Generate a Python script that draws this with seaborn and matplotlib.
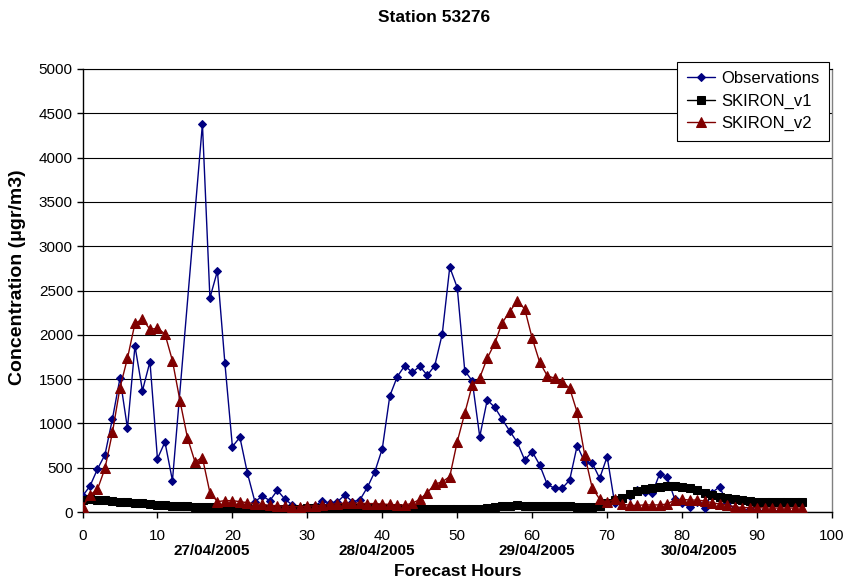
import numpy as np
import pandas as pd
import matplotlib
matplotlib.use("Agg")
import matplotlib.pyplot as plt
import seaborn as sns

# ---------------- data ----------------
obs_hours = list(range(0, 13)) + list(range(16, 94))
obs_values = [180, 293, 485, 647, 1054, 1511, 945, 1874, 1370, 1697, 602, 790, 354,
              4380, 2416, 2720, 1678, 738, 843, 440, 117, 180, 128, 245, 145, 79, 30,
              30, 70, 125, 100, 115, 192, 117, 135, 277, 454, 715, 1310, 1528, 1652,
              1575, 1645, 1543, 1652, 2010, 2763, 2533, 1596, 1479, 850, 1264, 1182,
              1046, 914, 787, 587, 681, 531, 313, 267, 267, 361, 749, 565, 555, 380,
              625, 98, 135, 180, 248, 229, 211, 429, 391, 150, 100, 53, 113, 42, 218,
              286, 100, 40, 15, 30, 20, 10, 10, 10]

model_hours = list(range(0, 97))
v1_values = [135, 150, 130, 140, 128, 117, 117, 105, 100, 90, 75, 75, 70, 65, 65, 60,
             55, 55, 45, 45, 45, 40, 40, 38, 36, 35, 35, 35, 35, 35, 40, 42, 45, 48,
             50, 50, 50, 50, 48, 46, 44, 42, 40, 38, 36, 35, 34, 33, 32, 32, 30, 30,
             30, 35, 45, 60, 66, 72, 75, 72, 68, 66, 64, 64, 64, 64, 62, 60, 60, 68,
             100, 135, 160, 199, 241, 260, 275, 286, 297, 297, 286, 275, 248, 218,
             192, 173, 158, 150, 135, 124, 117, 117, 117, 117, 117, 117, 113]
v2_values = [60, 192, 256, 493, 900, 1403, 1735, 2130, 2175, 2062, 2074, 2010, 1708,
             1257, 839, 568, 613, 218, 117, 128, 128, 117, 105, 95, 85, 75, 70, 65, 60,
             60, 65, 70, 75, 85, 95, 100, 100, 100, 95, 95, 90, 85, 80, 79, 98, 143,
             218, 313, 342, 399, 794, 1114, 1434, 1516, 1735, 1905, 2137, 2261, 2382,
             2292, 1961, 1690, 1539, 1509, 1471, 1396, 1125, 645, 273, 145, 109, 147,
             90, 75, 75, 80, 80, 80, 90, 135, 143, 135, 135, 124, 105, 90, 80, 60, 50,
             50, 50, 45, 45, 45, 45, 45, 45]

series_names = ["Observations", "SKIRON_v1", "SKIRON_v2"]
date_labels = ["27/04/2005", "28/04/2005", "29/04/2005", "30/04/2005"]
date_positions = [17.2, 39.2, 60.6, 82.3]
x_ticks = list(range(0, 101, 10))
y_ticks = list(range(0, 5001, 500))

# ---------------- build table ----------------
df = pd.concat([
    pd.DataFrame({"hour": obs_hours, "value": obs_values, "series": series_names[0]}),
    pd.DataFrame({"hour": model_hours, "value": v1_values, "series": series_names[1]}),
    pd.DataFrame({"hour": model_hours, "value": v2_values, "series": series_names[2]}),
], ignore_index=True)

# ---------------- style ----------------
sns.set_theme(style="white")
plt.rcParams["font.family"] = ["Liberation Sans", "DejaVu Sans"]
plt.rcParams["text.color"] = "black"
plt.rcParams["axes.labelcolor"] = "black"
plt.rcParams["xtick.color"] = "black"
plt.rcParams["ytick.color"] = "black"

colors = {"Observations": "#000080", "SKIRON_v1": "#000000", "SKIRON_v2": "#800000"}
markers = {"Observations": "D", "SKIRON_v1": "s", "SKIRON_v2": "^"}
msizes = {"Observations": 4.5, "SKIRON_v1": 5.5, "SKIRON_v2": 7}

fig = plt.figure(figsize=(8.47, 5.80), dpi=100)
ax = fig.add_axes([82.5 / 847, 1 - 512 / 580, (832 - 82.5) / 847, (512 - 69) / 580])

for i, name in enumerate(series_names):
    sub = df[df["series"] == name]
    sns.lineplot(data=sub, x="hour", y="value", ax=ax, color=colors[name],
                 marker=markers[name], markersize=msizes[name],
                 markeredgecolor=colors[name], linewidth=1.0, label=name,
                 estimator=None, sort=True, zorder=3 + i)

ax.set_xlim(0, 100)
ax.set_ylim(0, 5000)
ax.set_xticks(x_ticks)
ax.set_yticks(y_ticks)
ax.yaxis.grid(True, color="black", linewidth=0.8)
ax.xaxis.grid(False)
ax.set_axisbelow(True)
for s in ["left", "bottom"]:
    ax.spines[s].set_color("black")
    ax.spines[s].set_linewidth(1.0)
ax.spines["top"].set_color("black")
ax.spines["top"].set_linewidth(0.8)
ax.spines["right"].set_color("#808080")
ax.spines["right"].set_linewidth(1.0)

ax.tick_params(axis="both", which="major", direction="out", length=4, width=1,
               color="black", labelcolor="black", labelsize=11, pad=3,
               bottom=True, left=True)
ax.tick_params(axis="x", pad=8)

ax.set_xlabel("")
ax.set_ylabel("Concentration (μgr/m3)", fontsize=14, fontweight="bold", color="black")
ax.yaxis.set_label_coords(-0.075, 0.53)

for lab, pos in zip(date_labels, date_positions):
    ax.text(pos, -0.088, lab, transform=ax.get_xaxis_transform(), ha="center",
            va="center", fontsize=11, fontweight="bold", color="black")

fig.text(458 / 847, 1 - 572 / 580, "Forecast Hours", ha="center", va="center",
         fontsize=12.5, fontweight="bold", color="black")
fig.text(434 / 847, 1 - 18 / 580, "Station 53276", ha="center", va="center",
         fontsize=12.5, fontweight="bold", color="black")

leg = ax.legend(loc="upper right", bbox_to_anchor=(829 / 847, 1 - 62 / 580),
                bbox_transform=fig.transFigure, frameon=True, fancybox=False,
                edgecolor="black", fontsize=12, handlelength=1.7,
                handletextpad=0.4, borderpad=0.55, labelspacing=0.45,
                borderaxespad=0)
for t in leg.get_texts():
    t.set_color("black")
leg.get_frame().set_linewidth(0.8)
leg.get_frame().set_facecolor("white")
leg.get_frame().set_alpha(1)
leg.set_zorder(10)

fig.savefig("out.png", dpi=100)
